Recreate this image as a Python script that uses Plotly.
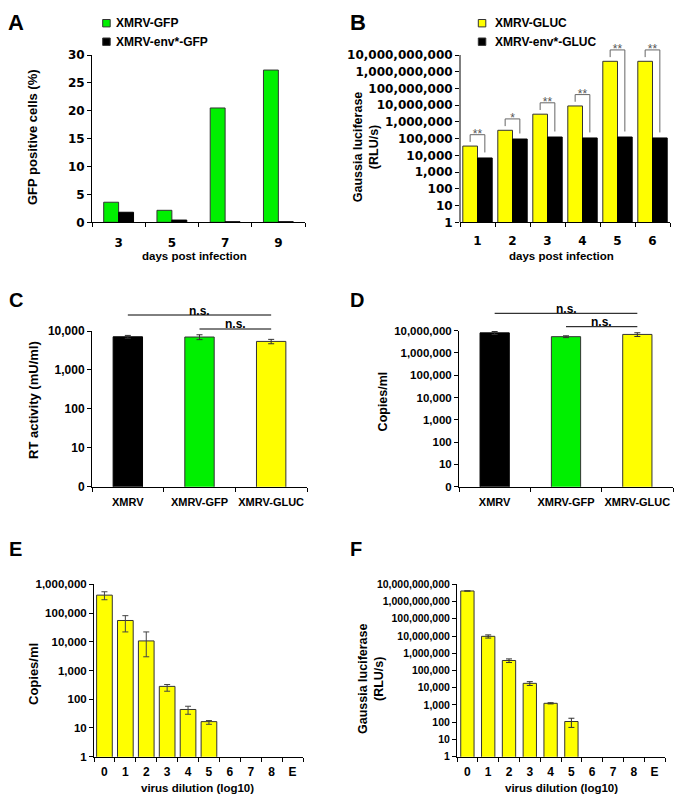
import plotly.graph_objects as go

# page body keeps an 8 px margin, so the figure is drawn 8 px in and made smaller
W, H = 683, 803
OFF = 8
FW, FH = W - 2 * OFF, H - 2 * OFF

# Panel A - GFP positive cells (%)
a_days = ["3", "5", "7", "9"]
a_names = ["XMRV-GFP", "XMRV-env*-GFP"]
a_gfp = [3.6, 2.15, 20.5, 27.3]
a_env = [1.8, 0.4, 0.1, 0.1]
a_ticks = [0, 5, 10, 15, 20, 25, 30]

# Panel B - Gaussia luciferase (RLU/s)
b_days = ["1", "2", "3", "4", "5", "6"]
b_names = ["XMRV-GLUC", "XMRV-env*-GLUC"]
b_gluc = [36000, 316000, 2900000, 9000000, 4.2e9, 4.2e9]
b_env = [7000, 95000, 125000, 110000, 125000, 110000]
b_stars = ["**", "*", "**", "**", "**", "**"]
b_ticks = [10 ** k for k in range(11)]

# Panel C - RT activity (mU/ml)
c_names = ["XMRV", "XMRV-GFP", "XMRV-GLUC"]
c_rt = [7100, 7000, 5400]
c_err = [600, 1000, 700]
c_ticks = [1, 10, 100, 1000, 10000]
c_pairs = [(0, 2), (1, 2)]

# Panel D - Copies/ml
d_names = ["XMRV", "XMRV-GFP", "XMRV-GLUC"]
d_copies = [8.0e6, 5.4e6, 6.8e6]
d_err = [1.2e6, 0.5e6, 1.3e6]
d_ticks = [10 ** k for k in range(8)]
d_pairs = [(0, 2), (1, 2)]

# Panel E - Copies/ml per dilution
e_dil = ["0", "1", "2", "3", "4", "5", "6", "7", "8", "E"]
e_copies = [420000, 55000, 10700, 280, 44, 16.6, None, None, None, None]
e_err_up = [130000, 26000, 11300, 45, 13, 1.5, 0, 0, 0, 0]
e_err_dn = [130000, 33000, 7700, 90, 14, 3.2, 0, 0, 0, 0]
e_ticks = [10 ** k for k in range(7)]

# Panel F - Gaussia luciferase per dilution
f_dil = ["0", "1", "2", "3", "4", "5", "6", "7", "8", "E"]
f_gluc = [4.1e9, 9.6e6, 380000, 18000, 1250, 110, None, None, None, None]
f_err = [0, 2.0e6, 90000, 4500, 100, 60, 0, 0, 0, 0]
f_ticks = [10 ** k for k in range(11)]

GREEN = "#00F000"
YELLOW = "#FFFF00"
BLACK = "#000000"
EDGE = "#333333"
LIB = "Liberation Sans, Arial, sans-serif"
DJV = "DejaVu Sans, sans-serif"


# page pixel -> paper coordinate
def fx(a):
    return (a - OFF) / FW


def fy(y):
    return 1 - (y - OFF) / FH


def px_x(a, b):
    return [fx(a), fx(b)]


def px_y(top, bot):
    return [fy(bot), fy(top)]


def fnt(size, family=LIB, color="black"):
    return dict(family=family, size=size, weight="bold", color=color)


def xax(dom, labels, anchor, font, pad):
    n = len(labels)
    return dict(domain=dom, anchor=anchor, range=[-0.5, n - 0.5], tickmode="array",
                tickvals=list(range(n)), ticktext=labels, ticks="outside", ticklen=pad,
                tickcolor="rgba(0,0,0,0)", tickfont=font, showline=True, linecolor="black",
                linewidth=1, showgrid=False, zeroline=False, automargin=False,
                minor=dict(tickmode="array", tickvals=[i - 0.5 for i in range(n + 1)],
                           ticks="outside", ticklen=4, tickcolor="black", tickwidth=1,
                           showgrid=False))


def yax(dom, anchor, kind, rng, vals, texts, font, line=True):
    return dict(domain=dom, anchor=anchor, type=kind, range=rng, tickmode="array",
                tickvals=vals, ticktext=texts, ticks="outside", ticklen=4, tickcolor="black",
                tickwidth=1, tickfont=font, showline=line, linecolor="black", linewidth=1,
                showgrid=False, zeroline=False, automargin=False)


def log_labels(vals, zero=False):
    return ["0" if (zero and v == 1) else f"{v:,}" for v in vals]


def note(text, x, y, size, family=LIB, angle=0, xanchor="center", yanchor="middle"):
    return dict(text=text, x=fx(x), y=fy(y), xref="paper", yref="paper", showarrow=False,
                font=fnt(size, family), textangle=angle, xanchor=xanchor, yanchor=yanchor)


fig = go.Figure()

# A
ia = list(range(len(a_days)))
fig.add_trace(go.Bar(x=ia, y=a_gfp, name=a_names[0], width=0.28, offset=-0.28,
                     marker=dict(color=GREEN, line=dict(color=EDGE, width=1)),
                     xaxis="x", yaxis="y"))
fig.add_trace(go.Bar(x=ia, y=a_env, name=a_names[1], width=0.28, offset=0,
                     marker=dict(color=BLACK, line=dict(color=BLACK, width=1)),
                     xaxis="x", yaxis="y"))

# B
ib = list(range(len(b_days)))
fig.add_trace(go.Bar(x=ib, y=b_gluc, name=b_names[0], width=0.42, offset=-0.42,
                     marker=dict(color=YELLOW, line=dict(color=EDGE, width=1)),
                     xaxis="x2", yaxis="y2"))
fig.add_trace(go.Bar(x=ib, y=b_env, name=b_names[1], width=0.42, offset=0,
                     marker=dict(color=BLACK, line=dict(color=BLACK, width=1)),
                     xaxis="x2", yaxis="y2"))
bx, by, sx, sy = [], [], [], []
for i, (g, e) in enumerate(zip(b_gluc, b_env)):
    top = g * 10 ** 0.68
    bx += [i - 0.21, i - 0.21, i + 0.21, i + 0.21, None]
    by += [g * 10 ** 0.25, top, top, e * 10 ** 0.33, None]
    sx.append(i)
    sy.append(top)
fig.add_trace(go.Scatter(x=bx, y=by, mode="lines", line=dict(color="#666666", width=1),
                         xaxis="x2", yaxis="y2", hoverinfo="skip"))
fig.add_trace(go.Scatter(x=sx, y=sy, mode="text", text=b_stars, textposition="middle center",
                         textfont=dict(family=LIB, size=12, color="#555555"), cliponaxis=False,
                         xaxis="x2", yaxis="y2", hoverinfo="skip"))

# C and D
cd_colors = [BLACK, GREEN, YELLOW]
fig.add_trace(go.Bar(x=list(range(3)), y=c_rt, width=0.41,
                     marker=dict(color=cd_colors, line=dict(color=[BLACK, EDGE, EDGE], width=1)),
                     error_y=dict(type="data", array=c_err, color=EDGE, thickness=1, width=3),
                     xaxis="x3", yaxis="y3"))
fig.add_trace(go.Bar(x=list(range(3)), y=d_copies, width=0.41,
                     marker=dict(color=cd_colors, line=dict(color=[BLACK, EDGE, EDGE], width=1)),
                     error_y=dict(type="data", array=d_err, color=EDGE, thickness=1, width=3),
                     xaxis="x4", yaxis="y4"))

# E and F
fig.add_trace(go.Bar(x=list(range(len(e_dil))), y=e_copies, width=0.75,
                     marker=dict(color=YELLOW, line=dict(color=EDGE, width=1)),
                     error_y=dict(type="data", symmetric=False, array=e_err_up,
                                  arrayminus=e_err_dn, color="#444444", thickness=1, width=3),
                     xaxis="x5", yaxis="y5"))
fig.add_trace(go.Bar(x=list(range(len(f_dil))), y=f_gluc, width=0.64,
                     marker=dict(color=YELLOW, line=dict(color=EDGE, width=1)),
                     error_y=dict(type="data", array=f_err, color=EDGE, thickness=1, width=3),
                     xaxis="x6", yaxis="y6"))

# B plot area is extended above the top tick so the brackets of days 5/6 are not clipped
b_top_px, b_ax_top, b_bot = 45, 55, 222.3
b_rng_top = 10 + (b_ax_top - b_top_px) / ((b_bot - b_ax_top) / 10)

tA = fnt(12, DJV)
tB = fnt(12, DJV)

fig.update_layout(
    width=FW, height=FH, margin=dict(l=0, r=0, t=0, b=0), autosize=False,
    paper_bgcolor="white", plot_bgcolor="white", showlegend=False, barmode="overlay",
    font=dict(family=LIB, color="black"),
    xaxis=xax(px_x(92, 305), a_days, "y", tA, 9),
    yaxis=yax(px_y(55, 222.3), "x", "linear", [0, 30], a_ticks, [str(v) for v in a_ticks], tA),
    xaxis2=xax(px_x(460, 670), b_days, "y2", fnt(12, DJV), 7),
    yaxis2=yax(px_y(b_top_px, b_bot), "x2", "log", [0, b_rng_top], b_ticks,
               log_labels(b_ticks), tB, line=False),
    xaxis3=xax(px_x(92, 307), c_names, "y3", fnt(11), 5),
    yaxis3=yax(px_y(331, 486.7), "x3", "log", [0, 4], c_ticks, log_labels(c_ticks, True), fnt(12)),
    xaxis4=xax(px_x(459, 673), d_names, "y4", fnt(11), 5),
    yaxis4=yax(px_y(330.7, 486.7), "x4", "log", [0, 7], d_ticks, log_labels(d_ticks, True), fnt(11.5)),
    xaxis5=xax(px_x(94, 303), e_dil, "y5", fnt(12), 4),
    yaxis5=yax(px_y(584.3, 756.7), "x5", "log", [0, 6], e_ticks, log_labels(e_ticks), fnt(11.5)),
    xaxis6=xax(px_x(457, 665), f_dil, "y6", fnt(12), 4),
    yaxis6=yax(px_y(584.3, 756.7), "x6", "log", [0, 10], f_ticks, log_labels(f_ticks), fnt(10.5)),
)

shapes = [dict(type="line", xref="x2 domain", yref="y2", x0=0, x1=0, y0=b_ticks[0], y1=b_ticks[-1],
               line=dict(color="black", width=1))]
anns = []

# n.s. comparisons above C and D
for xr, pairs, rows in [("x3", c_pairs, [(315, 310.5), (329, 324)]),
                        ("x4", d_pairs, [(313.3, 308.8), (326.7, 322)])]:
    for (i0, i1), (ly, ty) in zip(pairs, rows):
        shapes.append(dict(type="line", xref=xr, yref="paper", x0=i0, x1=i1,
                           y0=fy(ly), y1=fy(ly), line=dict(color="black", width=1)))
        anns.append(dict(text="n.s.", xref=xr, yref="paper", x=(i0 + i1) / 2, y=fy(ty),
                         showarrow=False, font=fnt(12), yanchor="middle"))

# legends of A and B
for names, colors, sq_x, tx in [(a_names, [GREEN, BLACK], 102.7, 114),
                                (b_names, [YELLOW, BLACK], 478.3, 493)]:
    for k, (nm, col) in enumerate(zip(names, colors)):
        cy = 23.2 + k * 18.5
        shapes.append(dict(type="rect", xref="paper", yref="paper", x0=fx(sq_x), x1=fx(sq_x + 7.5),
                           y0=fy(cy + 3.7), y1=fy(cy - 3.7), fillcolor=col,
                           line=dict(color=EDGE, width=1)))
        anns.append(note(nm, tx, cy, 12, xanchor="left"))

# panel letters
anns.append(note("A", 16, OFF, 22, yanchor="top"))
anns.append(note("B", 358.5, OFF, 22, yanchor="top"))
for lt, x, y in [("C", 16, 300), ("D", 356.5, 300), ("E", 15.5, 549), ("F", 356, 549)]:
    anns.append(note(lt, x, y, 20))

# axis titles
anns += [
    note("GFP positive cells (%)", 32, 137, 13, angle=-90),
    note("days post infection", 194.5, 256.5, 11.5),
    note("Gaussia luciferase<br>(RLU/s)", 365.5, 146.7, 12.5, angle=-90),
    note("days post infection", 561.7, 256, 11.5),
    note("RT activity (mU/ml)", 33, 400, 13, angle=-90),
    note("Copies/ml", 382.7, 401.7, 12.5, angle=-90),
    note("Copies/ml", 33, 674, 13, angle=-90),
    note("virus dilution (log10)", 197, 787.5, 11.5),
    note("Gaussia luciferase<br>(RLU/s)", 371, 679, 12.5, angle=-90),
    note("virus dilution (log10)", 561.7, 787.5, 11.5),
]

fig.update_layout(shapes=shapes, annotations=anns)
fig.write_html("out.html")
